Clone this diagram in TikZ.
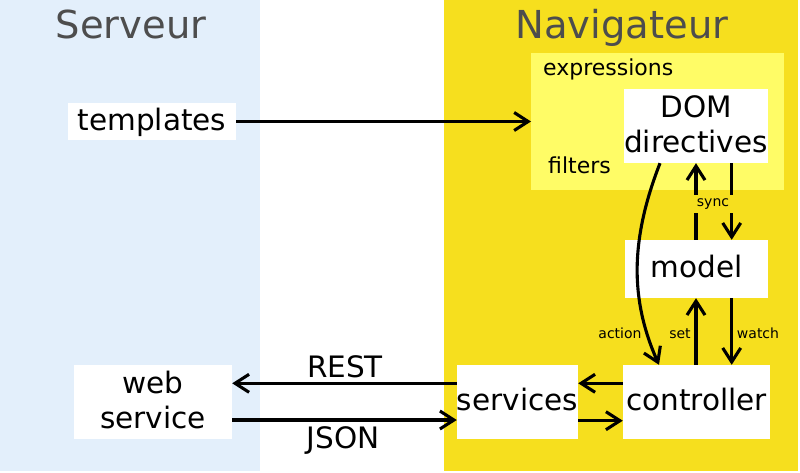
\documentclass[tikz,border=0pt]{standalone}
\usepackage{fontspec}
\setmainfont{DejaVu Sans}
\usetikzlibrary{arrows.meta}
\definecolor{srvblue}{RGB}{227,239,251}
\definecolor{navyellow}{RGB}{246,223,30}
\definecolor{lightyellow}{RGB}{255,252,102}
\definecolor{titlegray}{RGB}{77,77,77}
\newcommand\boxstrut{\rule[-9pt]{0pt}{35pt}}
\tikzset{
  box/.style={fill=white, inner sep=0pt, align=center, font=\fontsize{29.5}{35}\selectfont},
  arr/.style={line width=3.1pt, -{Straight Barb[length=14pt,width=18pt]}},
  small/.style={font=\fontsize{14}{16}\selectfont, inner sep=0pt},
  mid/.style={font=\fontsize{22}{26}\selectfont, inner sep=0pt},
  title/.style={font=\fontsize{38.5}{44}\selectfont, text=titlegray, inner sep=0pt}
}
\begin{document}
\begin{tikzpicture}[x=1pt,y=-1pt]
\useasboundingbox (0,0) rectangle (800,472);
\fill[white] (0,0) rectangle (800,472);
\fill[srvblue] (0,0) rectangle (260,471);
\fill[navyellow] (444,0) rectangle (798,471);
\fill[lightyellow] (531,53) rectangle (784,190);

\node[title, anchor=base] (tsrv) at (131,38) {Serveur};
\node[title, anchor=base] (tnav) at (622,38) {Navigateur};

\node[mid, anchor=base west] (expr) at (543,75) {expressions};
\node[mid, anchor=base west] (filt) at (548,173) {filters};

\node[box, minimum width=168pt, minimum height=37pt] (tpl) at (152,121.5) {\boxstrut templates};
\node[box, minimum width=144pt, minimum height=74pt] (dom) at (696,126) {\boxstrut DOM\\\boxstrut directives};
\node[box, minimum width=143pt, minimum height=58pt] (model) at (696.5,269) {\boxstrut model};
\node[box, minimum width=147pt, minimum height=74pt] (ctrl) at (696.5,402) {\boxstrut controller};
\node[box, minimum width=121pt, minimum height=74pt] (svc) at (517.5,402) {\boxstrut services};
\node[box, minimum width=158pt, minimum height=74pt] (web) at (153,402) {\boxstrut web\\\boxstrut service};

\coordinate (xl) at (696,0);
\coordinate (xr) at (731.7,0);
\coordinate (xbox) at (531,0);

% templates -> client area
\draw[arr] (tpl.east) -- (tpl.east -| xbox);

% REST / JSON
\draw[arr] ([yshift=18.7pt]svc.west) -- ([yshift=18.7pt]web.east);
\draw[arr] ([yshift=-18pt]web.east) -- ([yshift=-18pt]svc.west);
\node[font=\fontsize{29.5}{35}\selectfont, inner sep=0pt, anchor=base] (rest) at (345,377) {REST};
\node[font=\fontsize{29.5}{35}\selectfont, inner sep=0pt, anchor=base] (json) at (343,448) {JSON};

% controller <-> services
\draw[arr] ([yshift=18.7pt]ctrl.west) -- ([yshift=18.7pt]svc.east);
\draw[arr] ([yshift=-18.7pt]svc.east) -- ([yshift=-18.7pt]ctrl.west);

% sync
\draw[arr] (model.north -| xl) -- (dom.south -| xl);
\draw[arr] (dom.south -| xr) -- (model.north -| xr);
\node[small, fill=navyellow, minimum width=46pt, minimum height=18pt] (sync) at (713,204) {sync};

% set / watch
\draw[arr] (ctrl.north -| xl) -- (model.south -| xl);
\draw[arr] (model.south -| xr) -- (ctrl.north -| xr);
\node[small, anchor=base] (set) at (680,338) {set};
\node[small, anchor=base] (watch) at (758,338) {watch};

% action
\draw[arr] ([xshift=-36pt]dom.south) .. controls +(-30,77) and +(-29,-65) .. ([xshift=-37.5pt]ctrl.north);
\node[small, anchor=base] (action) at (620,338) {action};
\end{tikzpicture}
\end{document}
